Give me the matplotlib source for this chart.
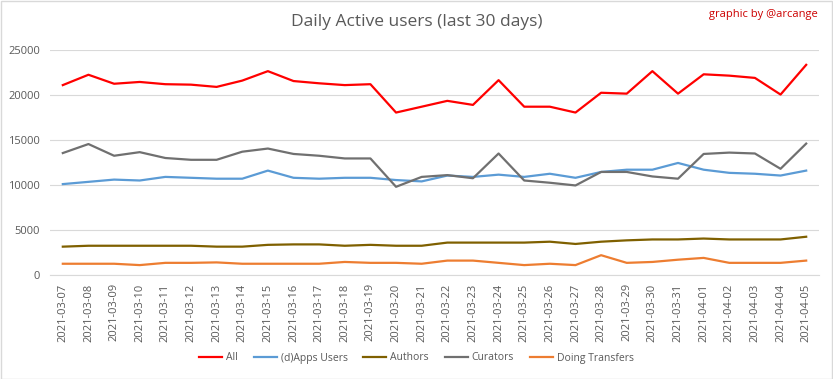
import matplotlib.pyplot as plt
import numpy as np

dates = [f"2021-03-{d:02d}" for d in range(7, 32)] + [f"2021-04-{d:02d}" for d in range(1, 6)]

all_users = [21100, 22250, 21250, 21450, 21200, 21150, 20900, 21600, 22650, 21550,
             21300, 21100, 21200, 18050, 18700, 19350, 18900, 21650, 18700, 18700,
             18050, 20250, 20150, 22650, 20150, 22300, 22150, 21900, 20050, 23350]
dapps = [10100, 10350, 10600, 10500, 10900, 10800, 10700, 10700, 11600, 10800,
         10700, 10800, 10800, 10550, 10400, 11050, 10900, 11150, 10900, 11250,
         10800, 11450, 11700, 11700, 12450, 11700, 11350, 11250, 11050, 11600]
authors = [3150, 3250, 3250, 3250, 3250, 3250, 3150, 3150, 3350, 3400,
           3400, 3250, 3350, 3250, 3250, 3600, 3600, 3600, 3600, 3700,
           3450, 3700, 3850, 3950, 3950, 4050, 3950, 3950, 3950, 4250]
curators = [13550, 14550, 13250, 13650, 13000, 12800, 12800, 13700, 14050, 13450,
            13250, 12950, 12950, 9800, 10900, 11100, 10750, 13500, 10500, 10250,
            9950, 11450, 11450, 10950, 10700, 13450, 13600, 13500, 11800, 14600]
transfers = [1250, 1250, 1250, 1100, 1350, 1350, 1400, 1250, 1250, 1250,
             1250, 1450, 1350, 1350, 1250, 1600, 1600, 1350, 1100, 1250,
             1100, 2200, 1350, 1450, 1700, 1900, 1350, 1350, 1350, 1600]

series = [
    ("All", all_users, "#FF0000"),
    ("(d)Apps Users", dapps, "#5B9BD5"),
    ("Authors", authors, "#7F6000"),
    ("Curators", curators, "#707070"),
    ("Doing Transfers", transfers, "#ED7D31"),
]

plt.rcParams["font.family"] = ["Open Sans", "DejaVu Sans"]

fig = plt.figure(figsize=(8.33, 3.79), dpi=100)
ax = fig.add_axes([50 / 833, 1 - 275 / 379, 769 / 833, 225 / 379])

x = np.arange(len(dates))
for name, vals, color in series:
    ax.plot(x, vals, color=color, lw=1.6, label=name, solid_joinstyle="round")

ax.set_xlim(-0.5, len(dates) - 0.5)
ax.set_ylim(0, 25000)
ax.set_yticks(range(0, 25001, 5000))
ax.set_xticks(x)
ax.set_xticklabels(dates, rotation=90, fontsize=8, color="#595959")
ax.tick_params(axis="y", labelsize=8, colors="#595959", length=0, pad=7)
ax.tick_params(axis="x", length=0, pad=6)
ax.grid(axis="y", color="#D9D9D9", lw=0.8)
ax.set_axisbelow(True)
for s in ["top", "right", "left"]:
    ax.spines[s].set_visible(False)
ax.spines["bottom"].set_color("#D9D9D9")

fig.text(0.5, 1 - 22 / 379, "Daily Active users (last 30 days)", ha="center", va="center",
         fontsize=12.5, color="#595959")
fig.text(818 / 833, 1 - 15 / 379, "graphic by @arcange", ha="right", va="center",
         fontsize=8, color="#CC0000")

fig.legend(loc="center", bbox_to_anchor=(0.5, 1 - 358 / 379), ncol=5, frameon=False,
           fontsize=7.5, handlelength=2.2, columnspacing=1.5, handletextpad=0.4,
           labelcolor="#595959")

fig.patches.append(plt.Rectangle((0.001, 0.001), 0.998, 0.997, transform=fig.transFigure,
                                 fill=False, edgecolor="#D9D9D9", lw=1))

fig.savefig("out.png", dpi=100)
